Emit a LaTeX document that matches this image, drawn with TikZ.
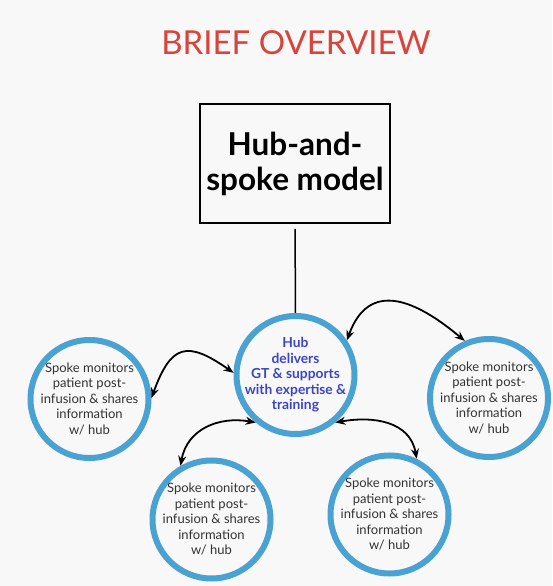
\documentclass[tikz,border=0pt]{standalone}
\usepackage{fontspec}
\setmainfont{Lato}
\usepackage{tikz}
\usetikzlibrary{positioning,arrows.meta}
\definecolor{paper}{HTML}{F8F8F8}
\definecolor{brick}{HTML}{D8443B}
\definecolor{ring}{HTML}{4AA2D2}
\definecolor{indigo}{HTML}{3C45C6}
\definecolor{graphite}{HTML}{333333}

\begin{document}
\begin{tikzpicture}[x=1pt,y=1pt,
  spoke/.style={circle,draw=ring,line width=6pt,minimum size=118pt,inner sep=-14pt,
    align=center,text=graphite,font=\fontsize{13}{15.5}\selectfont},
  hubnode/.style={spoke,text=indigo,font=\bfseries\fontsize{13.8}{15.5}\selectfont},
  link/.style={{Stealth[length=10pt,width=8pt]}-{Stealth[length=10pt,width=8pt]},line width=1.8pt}]
  % page
  \fill[paper] (0,0) rectangle (552,586);
  \useasboundingbox (0,0) rectangle (552,586);

  \node[text=brick,font=\fontsize{33}{38}\selectfont] (title) at (296,543) {BRIEF OVERVIEW};
  \node[draw,line width=2pt,minimum width=190pt,minimum height=119pt,align=center,
        font=\bfseries\fontsize{31.5}{35}\selectfont] (model) at (295,422.5) {Hub-and-\\spoke model};

  \node[hubnode] (hub) at (295.5,211) {Hub\\delivers\\GT \& supports\\with expertise \&\\training};

  \foreach \name/\x/\y in {spokeL/89.5/187, spokeR/489/188, spokeBL/211.5/66.5, spokeBR/389.5/71.5}
    \node[spoke] (\name) at (\x,\y) {Spoke monitors\\patient post-\\infusion \& shares\\information\\w/ hub};

  \draw[line width=1.5pt,shorten <=5pt] (model) -- (hub);

  % hub <-> spokes
  \draw[link] (spokeL.1) to[out=70,in=145,looseness=1.7] (hub.178);
  \draw[link] (hub.34) to[out=70,in=140,looseness=1.4] (spokeR.113);
  \draw[link] (hub.230) to[out=170,in=80,looseness=1.1] (spokeBL.120);
  \draw[link] (hub.310) to[out=10,in=100,looseness=1.1] (spokeBR.64);
\end{tikzpicture}
\end{document}
